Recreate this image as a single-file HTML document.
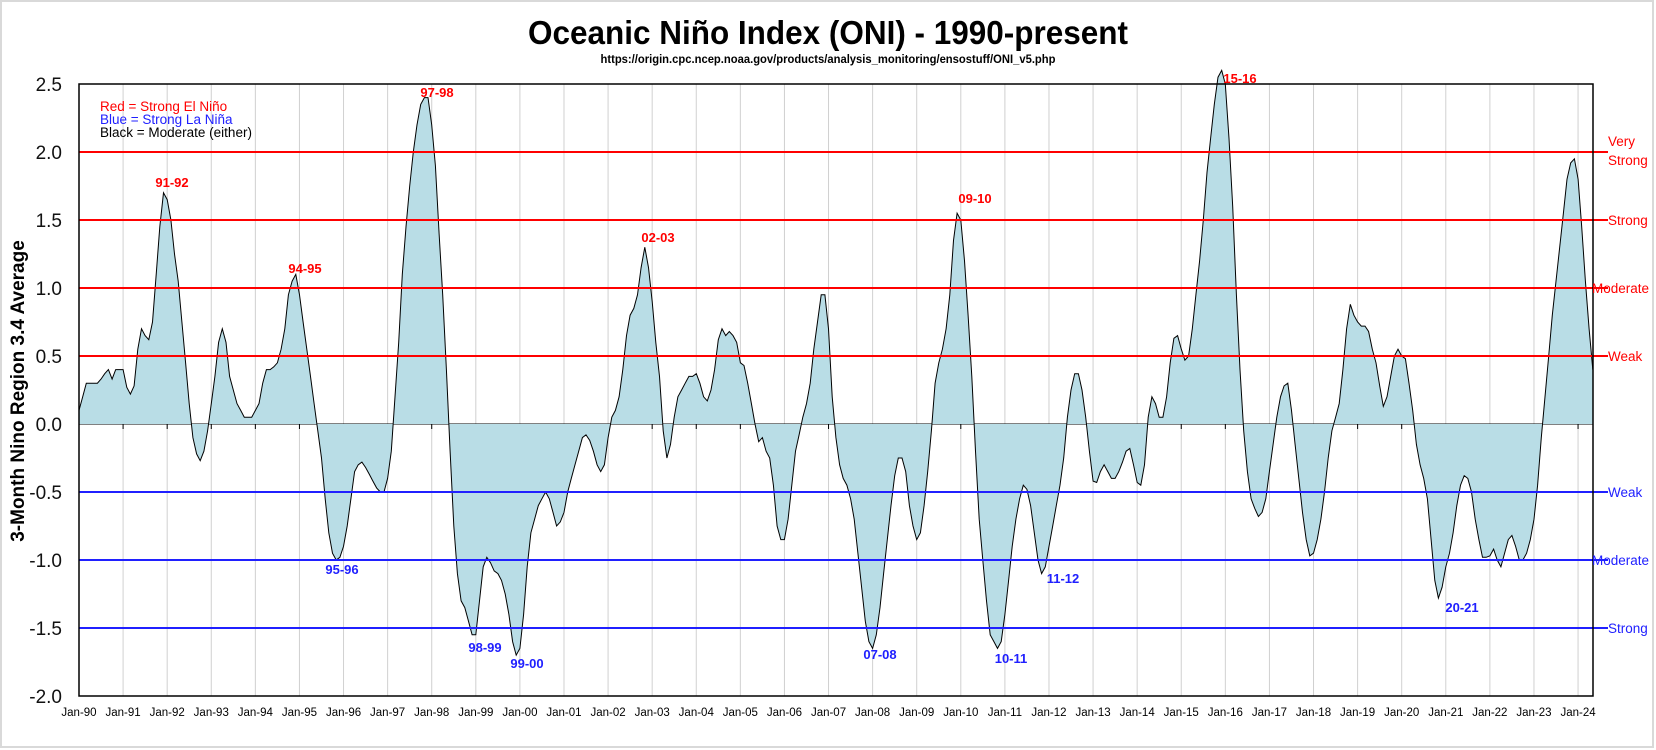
<!DOCTYPE html>
<html><head><meta charset="utf-8">
<style>
html,body{margin:0;padding:0;background:#fff;}
svg{display:block;}
text{font-family:"Liberation Sans",sans-serif;}
</style></head>
<body>
<svg id="c" width="1656" height="750" xmlns="http://www.w3.org/2000/svg">
<rect x="1" y="1" width="1652" height="746" fill="#fff" stroke="#d9d9d9" stroke-width="2"/>
<text x="828" y="44" text-anchor="middle" font-size="33" font-weight="bold" textLength="600" lengthAdjust="spacingAndGlyphs">Oceanic Niño Index (ONI) - 1990-present</text>
<text x="828" y="63" text-anchor="middle" font-size="11.5" font-weight="bold" textLength="455" lengthAdjust="spacingAndGlyphs">https://origin.cpc.ncep.noaa.gov/products/analysis_monitoring/ensostuff/ONI_v5.php</text>
<g id="grid"></g>
<g id="series"></g>
<g id="lines"></g>
<rect x="79" y="84" width="1514" height="612" fill="none" stroke="#000" stroke-width="1.5"/>
<g id="labels"></g>
<text x="100" y="111" font-size="13.5" fill="#ff0000">Red = Strong  El Niño</text>
<text x="100" y="124" font-size="13.5" fill="#2020ff">Blue = Strong  La Niña</text>
<text x="100" y="137" font-size="13.5" fill="#000">Black = Moderate  (either)</text>
<text transform="translate(24,391) rotate(-90)" text-anchor="middle" font-size="19" font-weight="bold">3-Month Nino Region 3.4 Average</text>
</svg>
<script>
var NS="http://www.w3.org/2000/svg";
function el(p,t,a,txt){var e=document.createElementNS(NS,t);for(var k in a)e.setAttribute(k,a[k]);if(txt!==undefined)e.textContent=txt;p.appendChild(e);return e;}
function Y(v){return 424-136*v;}
var X0=79, YS=44.09;
function X(i){return X0+i*YS/12;}
var grid=document.getElementById('grid'),lines=document.getElementById('lines'),labels=document.getElementById('labels'),series=document.getElementById('series');
for(var y=0;y<=34;y++){
  var x=X0+y*YS;
  if(y>0) el(grid,'line',{x1:x,y1:84,x2:x,y2:696,stroke:'#d0d0d0','stroke-width':1});
  el(grid,'line',{x1:x,y1:424,x2:x,y2:429,stroke:'#000','stroke-width':1});
  var yy=(90+y)%100; yy=(yy<10?'0':'')+yy;
  el(labels,'text',{x:x,y:716,'text-anchor':'middle','font-size':11.5},'Jan-'+yy);
}
for(var v=2.5;v>=-2.01;v-=0.5){
  el(labels,'text',{x:62,y:Y(v)+7,'text-anchor':'end','font-size':19,fill:'#111'},v.toFixed(1));
}
el(grid,'line',{x1:79,y1:424,x2:1593,y2:424,stroke:'#000','stroke-width':1});
var data=[
0.1,0.2,0.3,0.3,0.3,0.3,0.33,0.37,0.4,0.33,0.4,0.4,
0.4,0.27,0.22,0.28,0.55,0.7,0.65,0.62,0.75,1.1,1.45,1.7,
1.65,1.5,1.25,1.05,0.75,0.45,0.15,-0.1,-0.22,-0.27,-0.2,-0.05,
0.15,0.35,0.6,0.7,0.6,0.35,0.25,0.15,0.1,0.05,0.05,0.05,
0.1,0.15,0.3,0.4,0.4,0.42,0.45,0.55,0.7,0.95,1.05,1.1,
0.95,0.75,0.55,0.35,0.15,-0.05,-0.25,-0.55,-0.8,-0.95,-1.0,-0.98,
-0.9,-0.75,-0.55,-0.35,-0.3,-0.28,-0.32,-0.37,-0.42,-0.47,-0.5,-0.5,
-0.4,-0.2,0.2,0.6,1.1,1.45,1.75,2.0,2.2,2.35,2.4,2.4,
2.2,1.9,1.4,0.95,0.4,-0.2,-0.75,-1.1,-1.3,-1.35,-1.45,-1.55,
-1.55,-1.3,-1.05,-0.98,-1.02,-1.08,-1.1,-1.15,-1.25,-1.4,-1.6,-1.7,
-1.65,-1.4,-1.05,-0.8,-0.7,-0.6,-0.55,-0.5,-0.55,-0.65,-0.75,-0.72,
-0.65,-0.5,-0.4,-0.3,-0.2,-0.1,-0.08,-0.12,-0.2,-0.3,-0.35,-0.3,
-0.1,0.05,0.1,0.2,0.4,0.65,0.8,0.85,0.95,1.15,1.3,1.15,
0.9,0.6,0.35,-0.05,-0.25,-0.15,0.05,0.2,0.25,0.3,0.35,0.35,
0.37,0.3,0.2,0.17,0.25,0.4,0.62,0.7,0.65,0.68,0.65,0.6,
0.45,0.43,0.3,0.15,0.0,-0.13,-0.1,-0.2,-0.25,-0.45,-0.75,-0.85,
-0.85,-0.7,-0.45,-0.2,-0.08,0.05,0.15,0.3,0.55,0.75,0.95,0.95,
0.7,0.2,-0.1,-0.3,-0.4,-0.45,-0.55,-0.7,-0.95,-1.2,-1.45,-1.6,
-1.65,-1.55,-1.35,-1.1,-0.85,-0.6,-0.38,-0.25,-0.25,-0.35,-0.6,-0.75,
-0.85,-0.8,-0.6,-0.35,-0.05,0.3,0.45,0.55,0.7,0.95,1.35,1.55,
1.5,1.2,0.8,0.35,-0.2,-0.7,-1.0,-1.3,-1.55,-1.6,-1.65,-1.6,
-1.4,-1.15,-0.9,-0.7,-0.55,-0.45,-0.48,-0.6,-0.8,-1.0,-1.1,-1.05,
-0.9,-0.75,-0.6,-0.45,-0.25,0.05,0.25,0.37,0.37,0.25,0.05,-0.2,
-0.42,-0.43,-0.35,-0.3,-0.35,-0.4,-0.4,-0.35,-0.28,-0.2,-0.18,-0.3,
-0.43,-0.45,-0.3,0.05,0.2,0.15,0.05,0.05,0.2,0.45,0.63,0.65,
0.55,0.47,0.5,0.7,0.95,1.2,1.5,1.85,2.1,2.35,2.55,2.6,
2.5,2.1,1.6,0.95,0.4,-0.05,-0.35,-0.55,-0.62,-0.68,-0.65,-0.55,
-0.35,-0.15,0.05,0.2,0.28,0.3,0.1,-0.15,-0.4,-0.65,-0.85,-0.97,
-0.95,-0.85,-0.7,-0.5,-0.25,-0.05,0.05,0.15,0.4,0.7,0.88,0.8,
0.75,0.72,0.72,0.68,0.55,0.45,0.28,0.13,0.2,0.35,0.5,0.55,
0.5,0.48,0.3,0.1,-0.15,-0.3,-0.4,-0.55,-0.85,-1.15,-1.28,-1.2,
-1.05,-0.95,-0.8,-0.6,-0.45,-0.38,-0.4,-0.5,-0.7,-0.85,-0.98,-0.98,
-0.97,-0.92,-1.0,-1.05,-0.95,-0.85,-0.82,-0.9,-1.0,-1.0,-0.95,-0.85,
-0.7,-0.45,-0.1,0.2,0.5,0.8,1.05,1.3,1.55,1.8,1.92,1.95,
1.8,1.45,1.05,0.7,0.4
];
var d='M'+X(0)+','+Y(0);
for(var i=0;i<data.length;i++) d+=' L'+X(i).toFixed(1)+','+Y(data[i]).toFixed(1);
var dl='M'+X(0)+','+Y(data[0]);
for(var i=1;i<data.length;i++) dl+=' L'+X(i).toFixed(1)+','+Y(data[i]).toFixed(1);
d+=' L'+X(data.length-1).toFixed(1)+','+Y(0)+' Z';
el(series,'path',{d:d,fill:'#b9dde6',stroke:'none'});
el(series,'path',{d:dl,fill:'none',stroke:'#000','stroke-width':1});
var th=[[2.0,'#ff0000'],[1.5,'#ff0000'],[1.0,'#ff0000'],[0.5,'#ff0000'],[-0.5,'#2020ff'],[-1.0,'#2020ff'],[-1.5,'#2020ff']];
th.forEach(function(t){el(lines,'line',{x1:79,y1:Y(t[0]),x2:1608,y2:Y(t[0]),stroke:t[1],'stroke-width':2});});
var rl=[[2.0,'Very',-6],[2.0,'Strong',13],[1.5,'Strong',5],[1.0,'Moderate',5],[0.5,'Weak',5],[-0.5,'Weak',5],[-1.0,'Moderate',5],[-1.5,'Strong',5]];
rl.forEach(function(r){
  var c=r[0]>0?'#ff0000':'#2020ff';
  var x=r[1]=='Moderate'?1592:1608;
  el(labels,'text',{x:x,y:Y(r[0])+r[2],'font-size':13.5,fill:c},r[1]);
});
var ev=[['91-92',172,187,'r'],['94-95',305,273,'r'],['97-98',437,97,'r'],['02-03',658,242,'r'],['09-10',975,203,'r'],['15-16',1240,83,'r'],
['95-96',342,574,'b'],['98-99',485,652,'b'],['99-00',527,668,'b'],['07-08',880,659,'b'],['10-11',1011,663,'b'],['11-12',1063,583,'b'],['20-21',1462,612,'b']];
ev.forEach(function(e){el(labels,'text',{x:e[1],y:e[2],'text-anchor':'middle','font-size':13,'font-weight':'bold',fill:e[3]=='r'?'#ff0000':'#2020ff'},e[0]);});
</script>
</body></html>
